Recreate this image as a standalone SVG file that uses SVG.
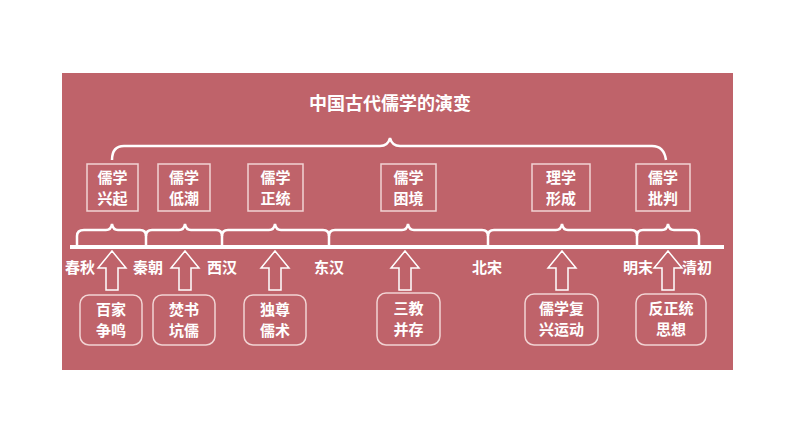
<svg xmlns="http://www.w3.org/2000/svg" width="794" height="447" viewBox="0 0 794 447">
<style>
text{font-family:"Noto Sans CJK SC","Liberation Sans",sans-serif;font-weight:bold;fill:#fff;text-anchor:middle}
.t{font-size:15px}
.l{font-size:15px}
.b{fill:none;stroke:#f2d4d4;stroke-width:1.5}
.br{fill:none;stroke:#fff;stroke-width:2.5}
.ar{fill:none;stroke:#fff;stroke-width:1.5}
</style>
<rect width="794" height="447" fill="#fff"/>
<rect x="62" y="73" width="671" height="297" fill="#bf636a"/>
<text x="390" y="110" style="font-size:18px">中国古代儒学的演变</text>
<g id="connectors">
<path class="br" d="M112,160 Q112,146 124,146 H380 Q388,146 390,138 Q392,146 400,146 H652 Q664,146 666,160"/>
<line x1="70" y1="247" x2="724" y2="247" stroke="#fff" stroke-width="4"/>
<path class="br" d="M77,246 V236 Q77,230 84,230 H106 Q111,230 112,224 Q113,230 118,230 H140 Q146,230 146,236 V246"/>
<path class="br" d="M146,236 Q146,230 152,230 H179 Q184,230 185,224 Q186,230 191,230 H216 Q222,230 222,236 V246"/>
<path class="br" d="M222,236 Q222,230 228,230 H269 Q274,230 275,224 Q276,230 281,230 H323 Q329,230 329,236 V246"/>
<path class="br" d="M329,236 Q329,230 335,230 H402 Q407,230 408,224 Q409,230 414,230 H482 Q488,230 488,236 V246"/>
<path class="br" d="M488,236 Q488,230 494,230 H556 Q561,230 562,224 Q563,230 568,230 H631 Q637,230 637,236 V246"/>
<path class="br" d="M637,236 Q637,230 643,230 H662 Q667,230 668,224 Q669,230 674,230 H693 Q699,230 699,236 V246"/>
<g id="arrows">
<path class="ar" d="M106,290 V268 H98 L112,251 L126,268 H118 V290 Z"/>
<path class="ar" d="M179,290 V268 H171 L185,251 L199,268 H191 V290 Z"/>
<path class="ar" d="M269,290 V268 H261 L275,251 L289,268 H281 V290 Z"/>
<path class="ar" d="M399,290 V268 H391 L405,251 L419,268 H411 V290 Z"/>
<path class="ar" d="M556,290 V268 H548 L562,251 L576,268 H568 V290 Z"/>
<path class="ar" d="M662,290 V268 H654 L668,251 L682,268 H674 V290 Z"/>
</g>
</g>
<g id="top-nodes">
<g id="n1"><rect class="b" x="87" y="164" width="51" height="47"/><text class="t" x="112.5" y="183">儒学</text><text class="t" x="112.5" y="204">兴起</text></g>
<g id="n2"><rect class="b" x="158" y="164" width="52" height="47"/><text class="t" x="184" y="183">儒学</text><text class="t" x="184" y="204">低潮</text></g>
<g id="n3"><rect class="b" x="248" y="164" width="55" height="47"/><text class="t" x="275.5" y="183">儒学</text><text class="t" x="275.5" y="204">正统</text></g>
<g id="n4"><rect class="b" x="381" y="164" width="55" height="47"/><text class="t" x="408.5" y="183">儒学</text><text class="t" x="408.5" y="204">困境</text></g>
<g id="n5"><rect class="b" x="532" y="164" width="58" height="47"/><text class="t" x="561" y="183">理学</text><text class="t" x="561" y="204">形成</text></g>
<g id="n6"><rect class="b" x="636" y="164" width="54" height="47"/><text class="t" x="663" y="183">儒学</text><text class="t" x="663" y="204">批判</text></g>
</g>
<g id="periods">
<text class="l" x="80" y="273">春秋</text>
<text class="l" x="148" y="273">秦朝</text>
<text class="l" x="222" y="273">西汉</text>
<text class="l" x="329" y="273">东汉</text>
<text class="l" x="487" y="273">北宋</text>
<text class="l" x="638" y="273">明末</text>
<text class="l" x="697" y="273">清初</text>
</g>
<g id="bottom-nodes">
<g id="m1"><rect class="b" x="80" y="295" width="62" height="50" rx="9"/><text class="t" x="111" y="315">百家</text><text class="t" x="111" y="336">争鸣</text></g>
<g id="m2"><rect class="b" x="153" y="295" width="62" height="50" rx="9"/><text class="t" x="184" y="315">焚书</text><text class="t" x="184" y="336">坑儒</text></g>
<g id="m3"><rect class="b" x="244" y="295" width="62" height="50" rx="9"/><text class="t" x="275" y="315">独尊</text><text class="t" x="275" y="336">儒术</text></g>
<g id="m4"><rect class="b" x="377" y="293" width="63" height="52" rx="9"/><text class="t" x="408.5" y="314">三教</text><text class="t" x="408.5" y="335">并存</text></g>
<g id="m5"><rect class="b" x="525" y="294" width="73" height="51" rx="9"/><text class="t" x="561.5" y="314">儒学复</text><text class="t" x="561.5" y="335">兴运动</text></g>
<g id="m6"><rect class="b" x="636" y="294" width="70" height="51" rx="9"/><text class="t" x="671" y="314">反正统</text><text class="t" x="671" y="335">思想</text></g>
</g>
</svg>
